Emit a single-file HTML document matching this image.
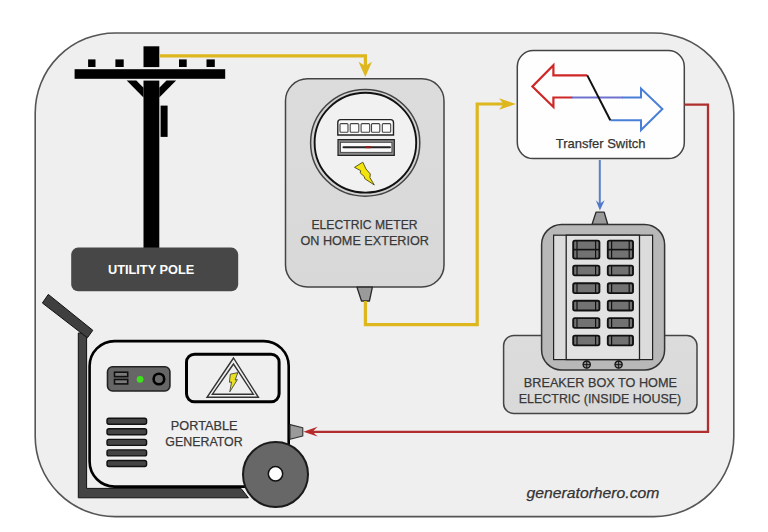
<!DOCTYPE html>
<html><head><meta charset="utf-8">
<style>
html,body{margin:0;padding:0;background:#fff;width:768px;height:532px;overflow:hidden}
svg{display:block}
text{font-family:"Liberation Sans",sans-serif}
</style></head>
<body>
<svg width="768" height="532" viewBox="0 0 768 532">
<defs>
<linearGradient id="gMeter" x1="0" y1="0" x2="0" y2="1">
<stop offset="0" stop-color="#dcdcdc"/><stop offset="1" stop-color="#d8d8d8"/>
</linearGradient>
<linearGradient id="gLabel" x1="0" y1="0" x2="0" y2="1">
<stop offset="0" stop-color="#dcdcdc"/><stop offset="1" stop-color="#d9d9d9"/>
</linearGradient>
</defs>
<!-- outer frame -->
<rect x="35.2" y="33" width="698.6" height="483.6" rx="80" ry="80" fill="#efefef" stroke="#555" stroke-width="1.6"/>

<!-- ===== Utility pole ===== -->
<g fill="#000">
<rect x="143.5" y="46.3" width="15.8" height="20.8"/>
<rect x="74.6" y="69.2" width="150.6" height="9.6"/>
<rect x="88.1" y="59.4" width="7.4" height="7.6"/>
<rect x="115.4" y="59.4" width="8.3" height="7.6"/>
<rect x="179" y="59.4" width="7.7" height="7.6"/>
<rect x="206.5" y="59.4" width="8.3" height="7.6"/>
<rect x="143.5" y="80.6" width="15.8" height="168"/>
<polygon points="126.7,80.6 136.3,80.6 143.5,87.8 143.5,97.4"/>
<polygon points="176.1,80.6 166.5,80.6 159.3,87.8 159.3,97.4"/>
<rect x="160.6" y="105.6" width="7" height="31.3"/>
</g>
<rect x="71.2" y="247.6" width="167" height="43.7" rx="7" fill="#474747"/>
<text x="151.1" y="274.4" font-size="13.4" font-weight="bold" fill="#fff" text-anchor="middle" textLength="86.2" lengthAdjust="spacingAndGlyphs">UTILITY POLE</text>

<!-- ===== Yellow line pole->meter ===== -->
<g fill="none" stroke="#deb61e" stroke-width="3.2">
<polyline points="159.3,55.8 365.4,55.8 365.4,68"/>
<polygon points="358.5,61.8 365.3,66 372,61.8 365.3,77" fill="#deb61e" stroke="none"/>
</g>

<!-- ===== Electric meter ===== -->
<rect x="285.5" y="78.8" width="158.5" height="208.2" rx="22" fill="url(#gMeter)" stroke="#444" stroke-width="1.5"/>
<ellipse cx="365.2" cy="142.8" rx="54.6" ry="53.4" fill="#d2d2d2" stroke="#444" stroke-width="1.5"/>
<ellipse cx="365.4" cy="142.7" rx="50.8" ry="49.9" fill="#f1f1f1" stroke="#111" stroke-width="1.9"/>
<!-- digits -->
<path d="M337.8,135 V122.5 Q337.8,119.6 340.7,119.6 H390.6 Q393.5,119.6 393.5,122.5 V135 Z" fill="#fafafa" stroke="#222" stroke-width="1.4"/>
<g fill="#fbfbfb" stroke="#444" stroke-width="1.1">
<rect x="340" y="123.6" width="8" height="8.7" rx="1"/>
<rect x="350.2" y="123.6" width="8.6" height="8.7" rx="1"/>
<rect x="361.1" y="123.6" width="8.6" height="8.7" rx="1"/>
<rect x="371.5" y="123.6" width="8.3" height="8.7" rx="1"/>
<rect x="382.3" y="123.6" width="8.4" height="8.7" rx="1"/>
</g>
<rect x="338" y="139.6" width="56.3" height="15.8" fill="#8a8a8a" stroke="#222" stroke-width="1.2"/>
<rect x="340.4" y="142.3" width="51.5" height="10" fill="#fafafa" stroke="#333" stroke-width="0.8"/>
<line x1="343.5" y1="147.2" x2="390" y2="147.2" stroke="#222" stroke-width="2" stroke-linecap="round"/>
<line x1="365.5" y1="147.2" x2="371" y2="147.2" stroke="#8a1a1a" stroke-width="2"/>
<!-- bolt -->
<polygon points="354.5,167.3 362.8,162.2 366,169 370.3,174 369.9,177.6 374.3,185 364.7,178.6 364.4,176.7 360.1,172.8 360.8,170.8" fill="#f2e40c" stroke="#4a4a10" stroke-width="0.9" stroke-linejoin="round"/>
<text x="364.5" y="228.7" font-size="13.6" fill="#383838" stroke="#383838" stroke-width="0.25" text-anchor="middle" textLength="106.1" lengthAdjust="spacingAndGlyphs">ELECTRIC METER</text>
<text x="364.7" y="244.6" font-size="13.6" fill="#383838" stroke="#383838" stroke-width="0.25" text-anchor="middle" textLength="128.5" lengthAdjust="spacingAndGlyphs">ON HOME EXTERIOR</text>
<!-- meter nub -->
<polygon points="357,287.2 372.4,287.2 369.4,301 361.5,301" fill="#9a9a9a" stroke="#2a2a2a" stroke-width="1.3" stroke-linejoin="round"/>

<!-- ===== Yellow line meter->switch ===== -->
<g fill="none" stroke="#deb61e" stroke-width="3.2">
<polyline points="365.4,301 365.4,324.7 477.2,324.7 477.2,104 506,104"/>
<polygon points="499,98.2 503.5,104 499,109.8 515.8,104" fill="#deb61e" stroke="none"/>
</g>

<!-- ===== Transfer switch ===== -->
<rect x="517.3" y="50.6" width="167" height="108" rx="16" fill="#fefefe" stroke="#444" stroke-width="1.5"/>
<g fill="none" stroke-width="2.2" stroke-linejoin="miter">
<polyline points="572.5,97.5 553.4,97.5 553.4,107 532.4,86.6 553.4,65.2 553.4,75.4 587.3,75.4" stroke="#cf2626"/>
<polyline points="622,97.6 641,97.6 641,88.6 662.4,109 641,130 641,120.2 610.3,120.2" stroke="#4a7fd8" stroke-width="2"/>
<line x1="572" y1="97.5" x2="622.5" y2="97.5" stroke="#6f72cc" stroke-width="2.1"/>
<line x1="587.3" y1="75.4" x2="610.3" y2="120.2" stroke="#111" stroke-width="2"/>
</g>
<text x="600.6" y="148.1" font-size="13.4" fill="#333" stroke="#333" stroke-width="0.25" text-anchor="middle" textLength="89.8" lengthAdjust="spacingAndGlyphs">Transfer Switch</text>

<!-- red line -->
<g fill="none" stroke="#b02e2e" stroke-width="2.3">
<polyline points="684.5,104.7 708,104.7 708,431.8 310,431.8"/>
<polygon points="317.6,426.8 312.5,431.8 317.6,436.6 303.4,431.8" fill="#b82a2a" stroke="none"/>
</g>

<!-- blue arrow down -->
<g fill="none" stroke="#5a80c6" stroke-width="2">
<line x1="599.8" y1="160" x2="599.8" y2="205"/>
<polygon points="595.8,200.2 599.8,203.8 604.6,200.2 599.9,210.6" fill="#4f78cc" stroke="none"/>
</g>

<!-- ===== Breaker box ===== -->
<rect x="503.6" y="335.6" width="193.4" height="77.8" rx="10" fill="url(#gLabel)" stroke="#444" stroke-width="1.5"/>
<polygon points="596,212.2 604.2,212.2 607.8,224.5 592,224.5" fill="#9a9a9a" stroke="#2a2a2a" stroke-width="1.3" stroke-linejoin="round"/>
<rect x="541.6" y="224.5" width="123" height="145.5" rx="20" fill="#b8b8b8" stroke="#333" stroke-width="1.5"/>
<rect x="553.6" y="235.2" width="99" height="124.4" fill="#dcdcdc" stroke="#222" stroke-width="1.2"/>
<rect x="566.2" y="235.2" width="73.3" height="124.4" fill="#e2e2e2" stroke="#222" stroke-width="1.3"/>
<g fill="#727272" stroke="#111" stroke-width="1.9">
<rect x="573.2" y="240.6" width="26.2" height="18" rx="1.8"/>
<rect x="607.8" y="240.6" width="25.2" height="18" rx="1.8"/>
<rect x="573.2" y="265.6" width="26.2" height="9.8" rx="1.8"/>
<rect x="607.8" y="265.6" width="25.2" height="9.8" rx="1.8"/>
<rect x="573.2" y="283.3" width="26.2" height="9.8" rx="1.8"/>
<rect x="607.8" y="283.3" width="25.2" height="9.8" rx="1.8"/>
<rect x="573.2" y="300.7" width="26.2" height="9.8" rx="1.8"/>
<rect x="607.8" y="300.7" width="25.2" height="9.8" rx="1.8"/>
<rect x="573.2" y="318.1" width="26.2" height="9.8" rx="1.8"/>
<rect x="607.8" y="318.1" width="25.2" height="9.8" rx="1.8"/>
<rect x="573.2" y="335.6" width="26.2" height="9.8" rx="1.8"/>
<rect x="607.8" y="335.6" width="25.2" height="9.8" rx="1.8"/>
</g>
<g stroke="#111" stroke-width="1.2">
<line x1="573.2" y1="249.6" x2="599.4" y2="249.6" stroke-width="1.6"/>
<line x1="607.8" y1="249.6" x2="633" y2="249.6" stroke-width="1.6"/>
<line x1="577" y1="241" x2="577" y2="258.2"/><line x1="595.6" y1="241" x2="595.6" y2="258.2"/>
<line x1="611.6" y1="241" x2="611.6" y2="258.2"/><line x1="629.2" y1="241" x2="629.2" y2="258.2"/>
<line x1="577" y1="266" x2="577" y2="275"/><line x1="595.6" y1="266" x2="595.6" y2="275"/>
<line x1="611.6" y1="266" x2="611.6" y2="275"/><line x1="629.2" y1="266" x2="629.2" y2="275"/>
<line x1="577" y1="283.7" x2="577" y2="292.7"/><line x1="595.6" y1="283.7" x2="595.6" y2="292.7"/>
<line x1="611.6" y1="283.7" x2="611.6" y2="292.7"/><line x1="629.2" y1="283.7" x2="629.2" y2="292.7"/>
<line x1="577" y1="301.1" x2="577" y2="310.1"/><line x1="595.6" y1="301.1" x2="595.6" y2="310.1"/>
<line x1="611.6" y1="301.1" x2="611.6" y2="310.1"/><line x1="629.2" y1="301.1" x2="629.2" y2="310.1"/>
<line x1="577" y1="318.5" x2="577" y2="327.5"/><line x1="595.6" y1="318.5" x2="595.6" y2="327.5"/>
<line x1="611.6" y1="318.5" x2="611.6" y2="327.5"/><line x1="629.2" y1="318.5" x2="629.2" y2="327.5"/>
<line x1="577" y1="336" x2="577" y2="345"/><line x1="595.6" y1="336" x2="595.6" y2="345"/>
<line x1="611.6" y1="336" x2="611.6" y2="345"/><line x1="629.2" y1="336" x2="629.2" y2="345"/>
</g>
<g fill="#8a8a8a" stroke="#111" stroke-width="1.3">
<circle cx="586.7" cy="364.6" r="3.6"/><circle cx="618.6" cy="364.6" r="3.6"/>
</g>
<g stroke="#111" stroke-width="0.9">
<line x1="583.3" y1="364.6" x2="590.1" y2="364.6"/><line x1="586.7" y1="361.2" x2="586.7" y2="368"/>
<line x1="615.2" y1="364.6" x2="622" y2="364.6"/><line x1="618.6" y1="361.2" x2="618.6" y2="368"/>
</g>
<text x="600.4" y="387.2" font-size="13.6" fill="#383838" stroke="#383838" stroke-width="0.25" text-anchor="middle" textLength="153.2" lengthAdjust="spacingAndGlyphs">BREAKER BOX TO HOME</text>
<text x="600" y="403" font-size="13.6" fill="#383838" stroke="#383838" stroke-width="0.25" text-anchor="middle" textLength="162.4" lengthAdjust="spacingAndGlyphs">ELECTRIC (INSIDE HOUSE)</text>

<!-- ===== Generator ===== -->
<!-- handle -->
<!-- frame L -->
<path d="M78.3,333 H86.6 V488.4 H241 L248.4,497.8 H78.3 Z" fill="#444" stroke="#111" stroke-width="1"/>
<polygon points="48.3,294.4 42.4,303 87.4,337.8 92.8,330.3" fill="#3f3f3f" stroke="#111" stroke-width="1" stroke-linejoin="round"/>
<!-- body -->
<rect x="89.6" y="341.1" width="199.1" height="145.5" rx="25" fill="#f0f0f0" stroke="#000" stroke-width="2.6"/>
<!-- control panel -->
<rect x="107.5" y="366.8" width="62.4" height="24.2" rx="5" fill="#666" stroke="#222" stroke-width="1.6"/>
<rect x="114.5" y="372.2" width="13.2" height="4.4" fill="#7a7a7a" stroke="#111" stroke-width="1.6"/>
<rect x="114.5" y="379.5" width="13.2" height="4.4" fill="#7a7a7a" stroke="#111" stroke-width="1.6"/>
<circle cx="140.1" cy="379.3" r="3.4" fill="#3ee01e"/>
<circle cx="158.9" cy="379" r="5.3" fill="#6a6a6a" stroke="#000" stroke-width="2.6"/>
<!-- warning panel -->
<rect x="186.5" y="354.2" width="92.6" height="47.6" rx="8" fill="#efefef" stroke="#000" stroke-width="3"/>
<polygon points="233.5,358 207,397.3 258.4,397.3" fill="none" stroke="#333" stroke-width="1.4" stroke-linejoin="miter"/>
<polygon points="233.5,364 212.4,394.2 253.3,394.2" fill="none" stroke="#333" stroke-width="1.4" stroke-linejoin="miter"/>
<polygon points="230.3,374.2 237.8,372.6 235.2,380 237.4,379.6 229.8,391.8 231.5,382 229.4,382.3" fill="#e8e020" stroke="#333" stroke-width="0.8" stroke-linejoin="round"/>
<!-- vents -->
<g fill="#444" stroke="#111" stroke-width="1.4">
<rect x="107" y="418.2" width="39.6" height="6" rx="2"/>
<rect x="107" y="428.8" width="39.6" height="6" rx="2"/>
<rect x="107" y="439.4" width="39.6" height="6" rx="2"/>
<rect x="107" y="449.9" width="39.6" height="6" rx="2"/>
<rect x="107" y="460.5" width="39.6" height="6" rx="2"/>
</g>
<text x="204.2" y="430.4" font-size="13.6" fill="#383838" stroke="#383838" stroke-width="0.25" text-anchor="middle" textLength="66.7" lengthAdjust="spacingAndGlyphs">PORTABLE</text>
<text x="204" y="446.2" font-size="13.6" fill="#383838" stroke="#383838" stroke-width="0.25" text-anchor="middle" textLength="77.4" lengthAdjust="spacingAndGlyphs">GENERATOR</text>
<!-- generator nub -->
<polygon points="290,424.6 302.8,427.8 302.8,436 290,439.2" fill="#9a9a9a" stroke="#333" stroke-width="1.1" stroke-linejoin="round"/>
<!-- wheel -->
<circle cx="275.5" cy="474.5" r="32.5" fill="#676767" stroke="#1a1a1a" stroke-width="2"/>
<circle cx="275.5" cy="473.8" r="7.2" fill="#fff" stroke="#111" stroke-width="1.5"/>

<!-- watermark -->
<text x="593" y="498.3" font-size="15.2" font-style="italic" fill="#333" stroke="#333" stroke-width="0.25" text-anchor="middle" textLength="132.8" lengthAdjust="spacingAndGlyphs">generatorhero.com</text>
</svg>
</body></html>
